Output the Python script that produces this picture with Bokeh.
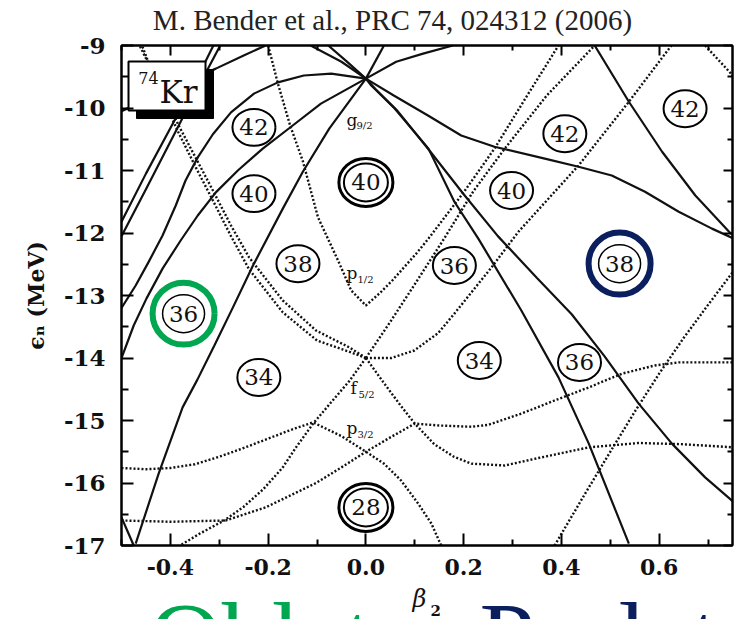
from bokeh.plotting import figure
from bokeh.layouts import column
from bokeh.models import Range1d, LinearAxis, FixedTicker
from bokeh.core.properties import value
from bokeh.embed import file_html
from bokeh.resources import INLINE

# ---------------- data ----------------
x_major = [-0.4, -0.2, 0.0, 0.2, 0.4, 0.6]
x_minor = [-0.5, -0.3, -0.1, 0.1, 0.3, 0.5, 0.7]
x_tick_labels = ["-0.4", "-0.2", "0.0", "0.2", "0.4", "0.6"]
y_major = [-17, -16, -15, -14, -13, -12, -11, -10, -9]
y_minor = [-16.5, -15.5, -14.5, -13.5, -12.5, -11.5, -10.5, -9.5]
y_tick_labels = ["-17", "-16", "-15", "-14", "-13", "-12", "-11", "-10", "-9"]

# positive-parity levels (solid)
s1_b = [0.0, -0.075, -0.129, -0.170, -0.231, -0.272, -0.31, -0.345, -0.375, -0.424, -0.471]
s1_e = [-9.53, -10.33, -11.02, -11.61, -12.52, -13.19, -13.8, -14.35, -14.79, -15.85, -16.97]
arc_b = [0.0, -0.071, -0.127, -0.18, -0.229, -0.276, -0.313, -0.344, -0.369, -0.389, -0.416, -0.445, -0.471, -0.5]
arc_e = [-9.53, -9.45, -9.48, -9.59, -9.77, -10.07, -10.42, -10.79, -11.16, -11.56, -12.04, -12.47, -12.84, -13.2]
mid_b = [0.0, -0.092, -0.153, -0.211, -0.262, -0.307, -0.344, -0.379, -0.416, -0.449, -0.475, -0.5]
mid_e = [-9.53, -9.93, -10.30, -10.65, -11.0, -11.35, -11.72, -12.12, -12.57, -13.05, -13.48, -14.0]
s5a_b = [-0.5, -0.45, -0.393, -0.35, -0.312]
s5a_e = [-11.82, -11.05, -10.22, -9.6, -9.0]
s5b_b = [-0.5, -0.45, -0.379, -0.34, -0.298]
s5b_e = [-12.05, -11.3, -10.22, -9.62, -9.0]
up1_b = [0.0, -0.05, -0.113]
up1_e = [-9.53, -9.26, -9.0]
up2_b = [0.0, -0.04, -0.077]
up2_e = [-9.53, -9.25, -9.0]
sbox_b = [-0.205, -0.25, -0.307, -0.4, -0.5]
sbox_e = [-9.0, -9.16, -9.37, -9.7, -10.05]
sshort_b = [-0.5, -0.475]
sshort_e = [-16.55, -17.0]
r1_b = [0.0, 0.037]
r1_e = [-9.53, -9.0]
r2_b = [0.0, 0.062, 0.117, 0.178]
r2_e = [-9.53, -9.26, -9.13, -9.0]
a_b = [0.0, 0.057, 0.127, 0.195, 0.263, 0.366, 0.435, 0.503, 0.571, 0.64, 0.708, 0.753]
a_e = [-9.53, -9.8, -10.12, -10.44, -10.62, -10.81, -10.94, -11.08, -11.34, -11.66, -11.93, -12.09]
b_b = [0.468, 0.538, 0.606, 0.674, 0.743, 0.753]
b_e = [-9.0, -9.9, -10.7, -11.4, -11.98, -12.05]
c_b = [0.0, 0.011, 0.058, 0.128, 0.181, 0.23, 0.318, 0.394, 0.456, 0.538]
c_e = [-9.53, -9.64, -10.0, -10.65, -11.5, -12.09, -13.24, -14.31, -15.37, -16.97]
d_b = [0.0, 0.02, 0.065, 0.13, 0.2, 0.27, 0.35, 0.421, 0.488, 0.558, 0.626, 0.694, 0.753]
d_e = [-9.53, -9.7, -10.05, -10.68, -11.38, -12.05, -12.72, -13.3, -13.97, -14.73, -15.37, -15.91, -16.31]

# negative-parity levels (dotted)
v_b = [-0.2, -0.18, -0.155, -0.129, -0.098, -0.057, -0.03, 0.0, 0.03, 0.054, 0.103, 0.128, 0.2, 0.263, 0.33, 0.394]
v_e = [-9.0, -9.61, -10.28, -10.85, -11.75, -12.44, -12.92, -13.16, -12.95, -12.76, -12.33, -12.09, -11.35, -10.65, -9.8, -9.0]
d2_b = [0.0, 0.05, 0.1, 0.16, 0.22, 0.284, 0.37, 0.468]
d2_e = [-14.0, -13.42, -12.82, -12.09, -11.33, -10.65, -9.8, -9.0]
d3_b = [0.0, 0.052, 0.099, 0.148, 0.181, 0.257, 0.312, 0.435, 0.538, 0.625]
d3_e = [-14.0, -14.0, -13.88, -13.6, -13.29, -12.55, -11.98, -10.92, -9.9, -9.0]
p1_b = [0.0, -0.034, -0.102, -0.17, -0.239, -0.276, -0.313, -0.348, -0.383, -0.42, -0.463]
p1_e = [-14.0, -13.83, -13.56, -13.08, -12.39, -11.88, -11.32, -10.8, -10.28, -9.68, -9.0]
p2_b = [0.0, -0.034, -0.1, -0.17, -0.239, -0.276, -0.313, -0.348, -0.383, -0.42, -0.458]
p2_e = [-14.0, -13.9, -13.72, -13.27, -12.58, -12.05, -11.48, -10.95, -10.4, -9.78, -9.0]
l1_b = [0.0, -0.034, -0.068, -0.108, -0.143, -0.17, -0.21, -0.25, -0.29, -0.34, -0.38]
l1_e = [-14.0, -14.37, -14.68, -15.05, -15.43, -15.75, -16.1, -16.38, -16.6, -16.81, -17.0]
l2_b = [-0.5, -0.45, -0.4, -0.35, -0.3, -0.25, -0.2, -0.15, -0.108, -0.05, 0.0, 0.037, 0.072, 0.107, 0.134, 0.154]
l2_e = [-15.76, -15.78, -15.76, -15.7, -15.58, -15.44, -15.29, -15.14, -15.03, -15.25, -15.5, -15.69, -15.96, -16.33, -16.65, -17.0]
l3_b = [-0.5, -0.4, -0.287, -0.205, -0.102, -0.05, 0.0, 0.05, 0.1, 0.15, 0.216, 0.25, 0.318, 0.386, 0.456, 0.524, 0.591, 0.64, 0.753]
l3_e = [-16.6, -16.62, -16.6, -16.39, -16.0, -15.75, -15.5, -15.27, -15.05, -15.08, -15.1, -15.07, -14.89, -14.68, -14.47, -14.25, -14.12, -14.07, -14.07]
l4_b = [0.0, 0.035, 0.07, 0.1, 0.14, 0.18, 0.216, 0.284, 0.353, 0.456, 0.558, 0.65, 0.753]
l4_e = [-14.0, -14.38, -14.75, -15.05, -15.38, -15.58, -15.69, -15.72, -15.6, -15.43, -15.36, -15.38, -15.43]
l5_b = [0.386, 0.45, 0.5, 0.55, 0.6, 0.65, 0.7, 0.753]
l5_e = [-17.0, -16.15, -15.5, -14.86, -14.25, -13.68, -13.15, -12.6]
l6_b = [0.694, 0.753]
l6_e = [-9.0, -9.5]

# particle-number gaps
gap_b = [-0.229, -0.229, -0.139, -0.219, 0.181, 0.232, 0.437, 0.298, 0.407, 0.653]
gap_e = [-10.31, -11.37, -12.49, -14.31, -12.52, -14.04, -14.07, -11.32, -10.41, -10.01]
gap_n = ["42", "40", "38", "34", "36", "34", "36", "40", "42", "42"]
magic_b = [0.0, 0.0]
magic_e = [-11.19, -16.39]
magic_n = ["40", "28"]
oblate_b = [-0.373]
oblate_e = [-13.29]
oblate_n = ["36"]
prolate_b = [0.519]
prolate_e = [-12.49]
prolate_n = ["38"]

title_text = "M. Bender et al., PRC 74, 024312 (2006)"
caption_text = ["Oblate", "Prolate"]
caption_color = ["#00A650", "#0B1F5E"]

# ---------------- page geometry helpers (decorations only) ----------------
FL, FT, PXU, PYU = 121.0, 45.0, 488.8, 62.5
def bx(px):
    return -0.5 + (px - FL) / PXU
def ey(py):
    return -9.0 - (py - FT) / PYU

SERIF = "DejaVu Serif"
XR = (-0.5, 0.75)

def strip(h):
    # same horizontal frame as the main plot, vertical range in page pixels
    s = figure(width=740, height=h, x_range=Range1d(*XR), y_range=Range1d(h, 0),
               output_backend="svg", toolbar_location=None,
               min_border_left=121, min_border_right=8, min_border_top=0, min_border_bottom=0,
               x_axis_location=None, y_axis_location=None,
               background_fill_color="white", border_fill_color="white")
    s.outline_line_color = None
    s.grid.visible = False
    return s

# ---------------- title strip ----------------
top_strip = strip(36)
top_strip.text([bx(392)], [19], text=[title_text], text_align="center", text_baseline="middle",
               text_font=value("Liberation Serif"), text_font_size="29px", text_color="#222222")

# ---------------- main figure ----------------
p = figure(width=740, height=550, x_range=Range1d(*XR), y_range=Range1d(-17, -9),
           output_backend="svg", toolbar_location=None,
           min_border_left=121, min_border_right=8, min_border_top=9, min_border_bottom=41,
           background_fill_color="white", border_fill_color="white")
p.xgrid.visible = False
p.ygrid.visible = False
p.outline_line_color = "black"
p.outline_line_width = 2

def style_axis(ax, tin, tmin):
    ax.axis_line_color = "black"
    ax.axis_line_width = 2
    ax.major_tick_in = tin
    ax.major_tick_out = 0
    ax.minor_tick_in = tmin
    ax.minor_tick_out = 0
    ax.major_tick_line_width = 2
    ax.minor_tick_line_width = 2
    ax.major_tick_line_color = "black"
    ax.minor_tick_line_color = "black"

xb = p.below[0]
xb.ticker = FixedTicker(ticks=x_major, minor_ticks=x_minor)
xb.major_label_overrides = dict(zip(x_major, x_tick_labels))
xb.major_label_text_font = SERIF
xb.major_label_text_font_style = "bold"
xb.major_label_text_font_size = "22px"
xb.major_label_text_color = "#111111"
xb.major_label_standoff = 13
style_axis(xb, 12, 6)

yl = p.left[0]
yl.ticker = FixedTicker(ticks=y_major, minor_ticks=y_minor)
yl.major_label_overrides = dict(zip(y_major, y_tick_labels))
yl.major_label_text_font = SERIF
yl.major_label_text_font_style = "bold"
yl.major_label_text_font_size = "23px"
yl.major_label_text_color = "#111111"
yl.major_label_standoff = 16
yl.axis_label = "\u03f5\u2099 (MeV)"
yl.axis_label_text_font = SERIF
yl.axis_label_text_font_style = "bold"
yl.axis_label_text_font_size = "22px"
yl.axis_label_text_color = "#111111"
yl.axis_label_standoff = 12
style_axis(yl, 12, 7)

top = LinearAxis(ticker=FixedTicker(ticks=x_major, minor_ticks=x_minor),
                 major_label_text_font_size="0px", major_label_standoff=0)
style_axis(top, 10, 5)
p.add_layout(top, "above")
right = LinearAxis(ticker=FixedTicker(ticks=y_major, minor_ticks=y_minor),
                   major_label_text_font_size="0px", major_label_standoff=0)
style_axis(right, 9, 5)
p.add_layout(right, "right")

# curves
solid = [(s1_b, s1_e), (arc_b, arc_e), (mid_b, mid_e), (s5a_b, s5a_e), (s5b_b, s5b_e),
         (up1_b, up1_e), (up2_b, up2_e), (sbox_b, sbox_e), (sshort_b, sshort_e),
         (r1_b, r1_e), (r2_b, r2_e), (a_b, a_e), (b_b, b_e), (c_b, c_e), (d_b, d_e)]
dotted = [(v_b, v_e), (d2_b, d2_e), (d3_b, d3_e), (p1_b, p1_e), (p2_b, p2_e),
          (l1_b, l1_e), (l2_b, l2_e), (l3_b, l3_e), (l4_b, l4_e), (l5_b, l5_e), (l6_b, l6_e)]
for bb, ee in dotted:
    p.line(bb, ee, line_color="#111111", line_width=2.4, line_dash="2 2")
for bb, ee in solid:
    p.line(bb, ee, line_color="#111111", line_width=2.2)

# gap circles
p.ellipse(gap_b, gap_e, width=43, height=37, width_units="screen", height_units="screen",
          fill_color="white", line_color="black", line_width=2)
p.ellipse(magic_b, magic_e, width=54, height=48, width_units="screen", height_units="screen",
          fill_color="white", line_color="black", line_width=3)
p.ellipse(magic_b, magic_e, width=44, height=38, width_units="screen", height_units="screen",
          fill_color=None, line_color="black", line_width=2)
for xs, ys in [(oblate_b, oblate_e), (prolate_b, prolate_e)]:
    p.ellipse(xs, ys, width=42, height=38, width_units="screen", height_units="screen",
              fill_color="white", line_color="black", line_width=1.5)
p.ellipse(oblate_b, oblate_e, width=62, height=62, width_units="screen", height_units="screen",
          fill_color=None, line_color="#00A650", line_width=6)
p.ellipse(prolate_b, prolate_e, width=62, height=62, width_units="screen", height_units="screen",
          fill_color=None, line_color="#0B1F5E", line_width=6)
for xs, ys, ts in [(gap_b, gap_e, gap_n), (magic_b, magic_e, magic_n),
                   (oblate_b, oblate_e, oblate_n), (prolate_b, prolate_e, prolate_n)]:
    p.text(xs, ys, text=ts, text_align="center", text_baseline="middle",
           text_font=value(SERIF), text_font_size="23px", text_color="#111111")

# 74Kr box
p.quad(left=[bx(136)], right=[bx(213)], top=[ey(69)], bottom=[ey(118)],
       fill_color="black", line_color="black")
p.quad(left=[bx(128)], right=[bx(205)], top=[ey(61)], bottom=[ey(110)],
       fill_color="white", line_color="black", line_width=2)

def txt(px, py, s, size, align="left", style="normal"):
    # py is the visual middle of the glyphs (page pixels)
    p.text([bx(px)], [ey(py)], text=[s], text_align=align, text_baseline="middle",
           text_font=value(SERIF), text_font_size=size, text_color="#111111",
           text_font_style=style)

txt(148, 77, "74", "16px", align="center")
txt(178, 91, "Kr", "31px", align="center")
txt(346, 119, "g", "17px")
txt(356, 125, "9/2", "10px")
txt(346, 272, "p", "17px")
txt(357, 279, "1/2", "10px")
txt(350, 387, "f", "17px")
txt(358, 394, "5/2", "10px")
txt(346, 427, "p", "17px")
txt(357, 434, "3/2", "10px")

# ---------------- bottom strip: beta_2 and captions ----------------
bot = strip(33)
bot.text([bx(419)], [12], text=["\u03b2"], text_align="center", text_baseline="middle",
         text_font=value(SERIF), text_font_size="24px", text_font_style="italic", text_color="#111111")
bot.text([bx(430)], [24], text=["2"], text_align="left", text_baseline="middle",
         text_font=value(SERIF), text_font_size="15px", text_font_style="bold", text_color="#111111")
bot.text([bx(149), bx(479)], [51, 51], text=caption_text, text_align="left", text_baseline="middle",
         text_font=value("Liberation Serif"), text_font_size="100px", text_color=caption_color)

layout = column(top_strip, p, bot)
open("out.html", "w").write(file_html(layout, INLINE))
